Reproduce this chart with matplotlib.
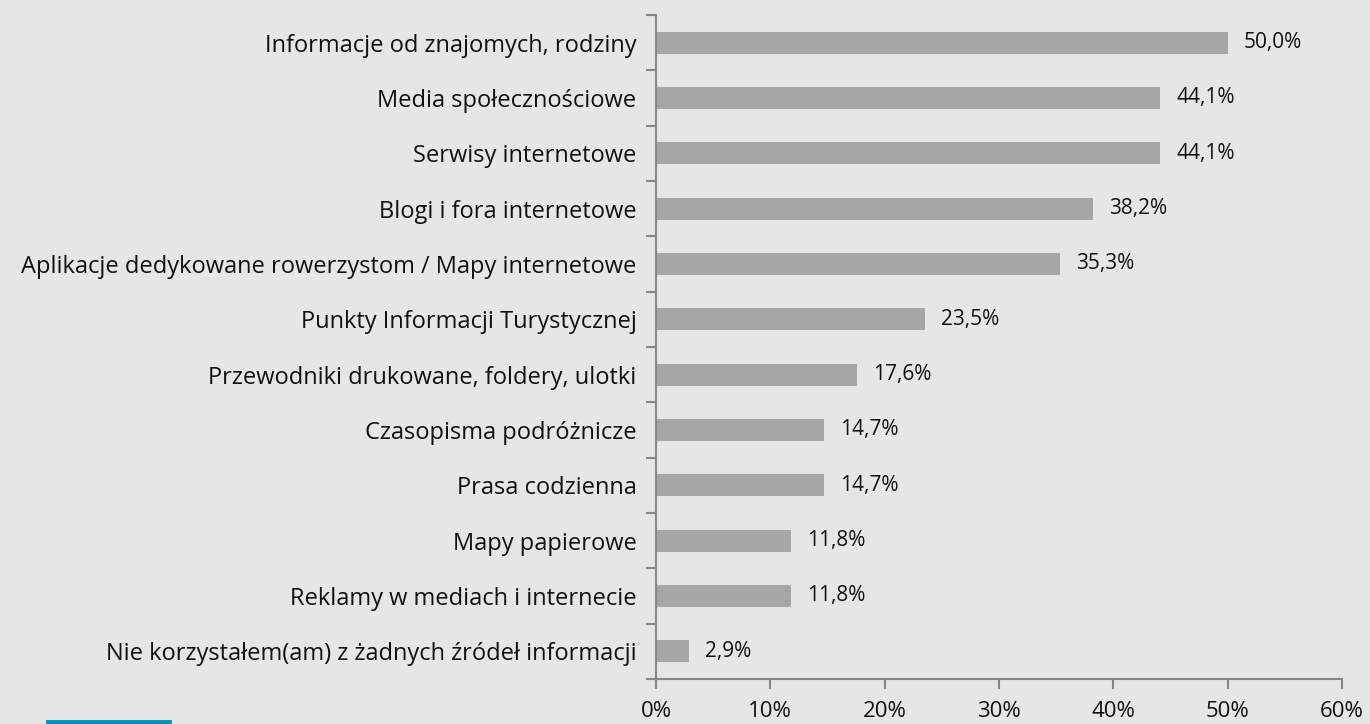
import matplotlib.pyplot as plt
from matplotlib.lines import Line2D
from matplotlib.ticker import FixedLocator, FuncFormatter

categories = [
    'Informacje od znajomych, rodziny',
    'Media społecznościowe',
    'Serwisy internetowe',
    'Blogi i fora internetowe',
    'Aplikacje dedykowane rowerzystom / Mapy internetowe',
    'Punkty Informacji Turystycznej',
    'Przewodniki drukowane, foldery, ulotki',
    'Czasopisma podróżnicze',
    'Prasa codzienna',
    'Mapy papierowe',
    'Reklamy w mediach i internecie',
    'Nie korzystałem(am) z żadnych źródeł informacji',
]
values = [50.0, 44.1, 44.1, 38.2, 35.3, 23.5, 17.6, 14.7, 14.7, 11.8, 11.8, 2.9]
x_ticks = [0, 10, 20, 30, 40, 50, 60]

bg = '#e6e6e6'
axis_color = '#868686'
plt.rcParams['font.family'] = ['Open Sans', 'DejaVu Sans']

fig = plt.figure(figsize=(13.7, 7.24), dpi=100, facecolor=bg)
ax = fig.add_axes([0.4788, 0.0622, 0.5008, 0.9171], facecolor=bg)

pos = list(range(len(categories)))
ax.barh(pos, values, height=0.4, color='#a6a6a6')
for p, v in zip(pos, values):
    ax.text(v + 1.4, p, f'{v:.1f}%'.replace('.', ','), va='center', ha='left',
            fontsize=15, color='#111111')

ax.set_xlim(0, 60)
ax.set_ylim(len(categories) - 0.5, -0.5)
ax.set_yticks(pos)
ax.set_yticklabels(categories, fontsize=17, color='#111111')
ax.tick_params(axis='y', which='major', length=0, pad=14)
ax.yaxis.set_minor_locator(FixedLocator([p - 0.5 for p in range(len(categories) + 1)]))
ax.tick_params(axis='y', which='minor', length=7, color=axis_color, width=1.5)

ax.set_xticks(x_ticks)
ax.xaxis.set_major_formatter(FuncFormatter(lambda v, _: f'{v:.0f}%'))
ax.tick_params(axis='x', length=7, color=axis_color, width=1.5, labelsize=16,
               labelcolor='#111111', pad=9)

for s in ['top', 'right']:
    ax.spines[s].set_visible(False)
for s in ['left', 'bottom']:
    ax.spines[s].set_color(axis_color)
    ax.spines[s].set_linewidth(1.5)

# blue accent line at the bottom left
fig.add_artist(Line2D([48 / 1370, 169 / 1370], [2 / 724, 2 / 724],
                      transform=fig.transFigure, color='#0590b5', linewidth=3.5))

fig.savefig('out.png', dpi=100, facecolor=bg)
